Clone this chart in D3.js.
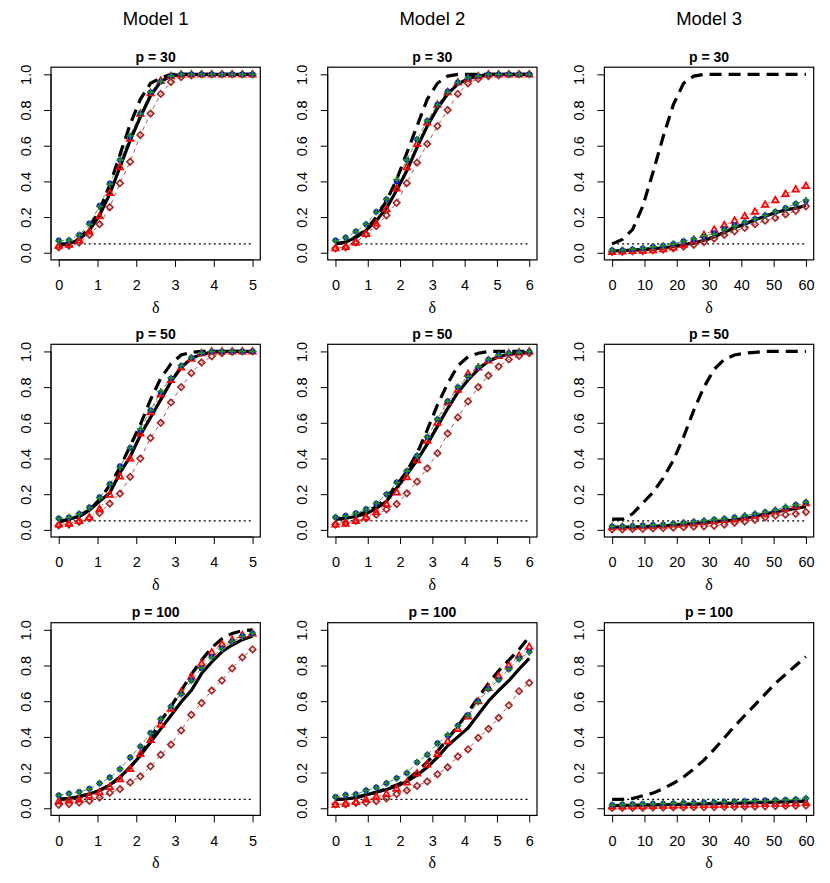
<!DOCTYPE html>
<html>
<head>
<meta charset="utf-8">
<script src="https://cdn.jsdelivr.net/npm/d3@7"></script>
<style>
  body { margin: 0; background: #fff; }
  text { font-family: "Liberation Sans", Arial, Helvetica, sans-serif; }
</style>
</head>
<body>
<div class="chart"></div>
<script>
// panels in row-major order: (p=30: M1,M2,M3), (p=50: ...), (p=100: ...)
const models = ["Model 1", "Model 2", "Model 3"];
const dims = [30, 50, 100];
const deltaMax = [5, 6, 60];
const yTicks = [0, 0.2, 0.4, 0.6, 0.8, 1.0];
const xTicks = [[0, 1, 2, 3, 4, 5], [0, 1, 2, 3, 4, 5, 6], [0, 10, 20, 30, 40, 50, 60]];
const nullLevel = 0.05;

// black thick solid line
const solidLine = [
  [0.05,0.05,0.075,0.125,0.21,0.33,0.48,0.63,0.76,0.88,0.96,0.99,1,1,1,1,1,1,1,1],
  [0.05,0.06,0.085,0.125,0.18,0.25,0.35,0.46,0.59,0.71,0.81,0.89,0.945,0.975,0.99,1,1,1,1,1],
  [0.01,0.012,0.015,0.018,0.022,0.028,0.035,0.045,0.055,0.07,0.09,0.115,0.14,0.16,0.185,0.205,0.225,0.24,0.25,0.265],
  [0.043,0.06,0.075,0.11,0.16,0.207,0.32,0.41,0.53,0.63,0.73,0.83,0.91,0.96,0.985,0.995,1,1,1,1],
  [0.06,0.065,0.075,0.09,0.12,0.16,0.235,0.31,0.39,0.48,0.58,0.68,0.77,0.84,0.9,0.945,0.97,0.985,0.99,0.995],
  [0.015,0.015,0.016,0.018,0.02,0.022,0.025,0.03,0.035,0.04,0.045,0.05,0.055,0.065,0.075,0.09,0.1,0.11,0.12,0.13],
  [0.049,0.055,0.065,0.08,0.1,0.13,0.175,0.23,0.295,0.37,0.445,0.52,0.596,0.66,0.755,0.82,0.877,0.915,0.945,0.966],
  [0.05,0.052,0.06,0.075,0.09,0.105,0.125,0.15,0.185,0.23,0.285,0.35,0.4,0.45,0.525,0.6,0.66,0.715,0.78,0.84],
  [0.015,0.016,0.017,0.018,0.019,0.02,0.021,0.022,0.023,0.025,0.026,0.027,0.028,0.029,0.031,0.033,0.034,0.036,0.038,0.04]
];
// black thick dashed line
const dashedLine = [
  [0.04,0.05,0.08,0.14,0.24,0.38,0.55,0.72,0.86,0.95,0.98,1,1,1,1,1,1,1,1,1],
  [0.05,0.06,0.09,0.13,0.2,0.29,0.41,0.56,0.71,0.86,0.95,0.99,1,1,1,1,1,1,1,1],
  [0.05,0.075,0.13,0.26,0.45,0.65,0.83,0.95,0.99,1,1,1,1,1,1,1,1,1,1,1],
  [0.05,0.055,0.075,0.11,0.17,0.25,0.35,0.47,0.59,0.73,0.85,0.93,0.98,0.995,1,1,1,1,1,1],
  [0.06,0.065,0.08,0.1,0.13,0.18,0.25,0.33,0.43,0.56,0.7,0.82,0.92,0.97,0.99,1,1,1,1,1],
  [0.06,0.06,0.09,0.15,0.21,0.29,0.39,0.52,0.67,0.8,0.9,0.955,0.98,0.99,0.995,1,1,1,1,1],
  [0.05,0.055,0.065,0.08,0.1,0.13,0.17,0.23,0.3,0.39,0.49,0.57,0.66,0.75,0.83,0.9,0.95,0.98,0.995,1],
  [0.05,0.052,0.06,0.075,0.09,0.11,0.13,0.16,0.205,0.26,0.32,0.39,0.46,0.54,0.62,0.7,0.77,0.83,0.89,0.96],
  [0.05,0.05,0.055,0.07,0.085,0.11,0.14,0.175,0.22,0.27,0.33,0.395,0.46,0.52,0.58,0.64,0.7,0.75,0.8,0.85]
];
// blue points
const bluePts = [
  [0.07,0.07,0.1,0.165,0.265,0.39,0.52,0.65,0.78,0.9,0.96,0.99,1,1,1,1,1,1,1,1],
  [0.07,0.085,0.12,0.16,0.23,0.3,0.4,0.52,0.635,0.74,0.83,0.905,0.955,0.98,0.99,1,1,1,1,1],
  [0.015,0.015,0.02,0.025,0.035,0.04,0.05,0.065,0.075,0.09,0.11,0.135,0.155,0.17,0.19,0.21,0.23,0.25,0.275,0.29],
  [0.065,0.07,0.09,0.126,0.184,0.257,0.357,0.46,0.56,0.67,0.77,0.85,0.92,0.965,0.99,1,1,1,1,1],
  [0.07,0.08,0.094,0.117,0.147,0.2,0.267,0.33,0.415,0.52,0.62,0.72,0.8,0.86,0.91,0.955,0.98,0.99,0.995,1],
  [0.02,0.02,0.022,0.025,0.028,0.03,0.035,0.04,0.045,0.05,0.058,0.062,0.07,0.078,0.088,0.1,0.11,0.125,0.14,0.155],
  [0.073,0.083,0.092,0.11,0.14,0.173,0.22,0.285,0.346,0.423,0.5,0.57,0.64,0.718,0.785,0.85,0.897,0.935,0.966,0.98],
  [0.064,0.075,0.079,0.1,0.117,0.14,0.17,0.197,0.258,0.3,0.365,0.408,0.464,0.524,0.6,0.67,0.72,0.78,0.84,0.878],
  [0.02,0.022,0.024,0.025,0.026,0.027,0.028,0.03,0.031,0.033,0.034,0.036,0.038,0.04,0.042,0.044,0.046,0.048,0.05,0.055]
];
// green points
const greenPts = [
  [0.068,0.07,0.1,0.16,0.26,0.385,0.52,0.655,0.78,0.9,0.96,0.99,1,1,1,1,1,1,1,1],
  [0.068,0.085,0.118,0.16,0.228,0.3,0.41,0.52,0.635,0.74,0.83,0.9,0.955,0.98,0.99,1,1,1,1,1],
  [0.014,0.015,0.02,0.025,0.033,0.04,0.05,0.064,0.078,0.095,0.105,0.13,0.15,0.17,0.19,0.21,0.23,0.25,0.275,0.295],
  [0.064,0.07,0.09,0.125,0.18,0.255,0.35,0.46,0.565,0.67,0.775,0.85,0.92,0.965,0.99,1,1,1,1,1],
  [0.07,0.078,0.092,0.115,0.148,0.2,0.265,0.33,0.415,0.52,0.62,0.72,0.8,0.86,0.915,0.955,0.98,0.99,0.995,1],
  [0.02,0.02,0.022,0.024,0.028,0.03,0.035,0.04,0.046,0.052,0.058,0.063,0.07,0.08,0.09,0.1,0.112,0.128,0.14,0.155],
  [0.072,0.082,0.09,0.108,0.14,0.172,0.22,0.285,0.347,0.42,0.5,0.57,0.64,0.715,0.785,0.845,0.895,0.935,0.963,0.98],
  [0.062,0.074,0.078,0.1,0.115,0.14,0.168,0.197,0.258,0.3,0.362,0.41,0.462,0.52,0.595,0.668,0.72,0.78,0.838,0.875],
  [0.018,0.021,0.022,0.024,0.025,0.026,0.028,0.029,0.03,0.032,0.034,0.036,0.038,0.04,0.041,0.043,0.045,0.047,0.05,0.056]
];
// red triangles
const redPts = [
  [0.04,0.045,0.07,0.12,0.205,0.335,0.48,0.64,0.78,0.895,0.965,0.99,1,1,1,1,1,1,1,1],
  [0.025,0.033,0.057,0.105,0.165,0.245,0.36,0.48,0.61,0.73,0.83,0.9,0.955,0.975,0.99,1,1,1,1,1],
  [0.005,0.008,0.01,0.012,0.015,0.02,0.03,0.045,0.07,0.1,0.13,0.155,0.18,0.205,0.23,0.27,0.295,0.33,0.355,0.375],
  [0.03,0.035,0.05,0.07,0.116,0.197,0.3,0.4,0.54,0.66,0.76,0.84,0.91,0.96,0.99,1,1,1,1,1],
  [0.03,0.035,0.05,0.07,0.1,0.145,0.21,0.295,0.39,0.5,0.6,0.715,0.785,0.875,0.91,0.95,0.975,0.99,0.995,1],
  [0.015,0.015,0.018,0.02,0.022,0.025,0.03,0.035,0.04,0.045,0.05,0.055,0.06,0.07,0.08,0.09,0.105,0.12,0.135,0.15],
  [0.04,0.045,0.05,0.07,0.09,0.12,0.163,0.22,0.305,0.383,0.47,0.558,0.652,0.737,0.812,0.874,0.919,0.944,0.97,0.98],
  [0.02,0.025,0.035,0.05,0.065,0.08,0.11,0.145,0.195,0.245,0.305,0.375,0.445,0.515,0.6,0.675,0.74,0.8,0.855,0.905],
  [0.01,0.01,0.011,0.012,0.013,0.014,0.015,0.016,0.017,0.018,0.019,0.02,0.021,0.022,0.023,0.024,0.025,0.026,0.028,0.03]
];
// brown diamonds
const brownPts = [
  [0.03,0.04,0.057,0.1,0.16,0.255,0.39,0.51,0.66,0.78,0.89,0.957,0.985,0.995,1,1,1,1,1,1],
  [0.025,0.03,0.058,0.105,0.15,0.21,0.28,0.39,0.505,0.61,0.71,0.8,0.89,0.95,0.975,0.99,0.995,1,1,1],
  [0.005,0.005,0.008,0.01,0.013,0.018,0.025,0.035,0.045,0.06,0.08,0.1,0.12,0.14,0.16,0.18,0.195,0.215,0.235,0.26],
  [0.025,0.03,0.045,0.065,0.094,0.147,0.203,0.297,0.4,0.515,0.6,0.714,0.8,0.878,0.938,0.973,0.99,0.997,1,1],
  [0.03,0.04,0.05,0.065,0.085,0.115,0.145,0.205,0.27,0.345,0.43,0.54,0.63,0.72,0.8,0.865,0.915,0.955,0.975,0.99],
  [0.003,0.003,0.005,0.006,0.008,0.01,0.012,0.015,0.018,0.02,0.023,0.03,0.04,0.047,0.056,0.07,0.08,0.085,0.09,0.1],
  [0.019,0.024,0.032,0.041,0.06,0.086,0.107,0.145,0.179,0.235,0.3,0.357,0.436,0.524,0.59,0.66,0.716,0.784,0.846,0.89],
  [0.022,0.022,0.03,0.032,0.04,0.055,0.08,0.1,0.125,0.15,0.19,0.23,0.29,0.33,0.395,0.445,0.507,0.577,0.656,0.703],
  [0.002,0.002,0.003,0.003,0.004,0.004,0.005,0.005,0.006,0.006,0.007,0.008,0.008,0.009,0.01,0.011,0.012,0.013,0.014,0.015]
];

const width = 830, height = 883;
const panelLeft = [51, 327.7, 604.4];
const panelTop = [67.2, 344.3, 622.7];
const pw = 209.3, ph = 192.7;
const tickFont = "14.5px";

const svg = d3.select(".chart").append("svg")
  .attr("width", width).attr("height", height)
  .style("background", "#fff");

// column headers
models.forEach((m, c) => {
  svg.append("text")
    .attr("x", panelLeft[c] + pw / 2).attr("y", 25)
    .attr("text-anchor", "middle")
    .attr("font-size", "18.5px")
    .text(m);
});

function diamond(s) {
  return `M0,${-s}L${s},0L0,${s}L${-s},0Z`;
}
function triangle(s) {
  return `M0,${-s}L${s * 0.95},${s * 0.65}L${-s * 0.95},${s * 0.65}Z`;
}

function drawPanel(k) {
  const r = Math.floor(k / 3), c = k % 3;
  const left = panelLeft[c], top = panelTop[r];
  const xmax = deltaMax[c];
  // x grid of the simulation: 20 equally spaced shifts from 0 to xmax
  const xs = d3.range(20).map(i => i * xmax / 19);

  const x = d3.scaleLinear().domain([-0.04 * xmax, 1.04 * xmax]).range([left, left + pw]);
  const y = d3.scaleLinear().domain([-0.04, 1.04]).range([top + ph, top]);

  const g = svg.append("g");

  // panel title
  g.append("text")
    .attr("x", left + pw / 2).attr("y", top - 5.5)
    .attr("text-anchor", "middle")
    .attr("font-size", "14px").attr("font-weight", "bold")
    .text("p = " + dims[r]);

  // axes
  const xAxis = d3.axisBottom(x).tickValues(xTicks[c]).tickSize(7).tickPadding(13).tickFormat(d3.format("d"));
  const gx = g.append("g").attr("transform", `translate(0,${top + ph})`).call(xAxis);
  gx.select(".domain").attr("d", `M${x(xTicks[c][0])},0H${x(xTicks[c][xTicks[c].length - 1])}`);
  gx.selectAll("text").attr("font-size", tickFont).attr("fill", "#000")
    .style("font-family", '"Liberation Sans", Arial, sans-serif');

  const yAxis = d3.axisLeft(y).tickValues(yTicks).tickSize(7).tickFormat(d3.format(".1f"));
  const gy = g.append("g").attr("transform", `translate(${left},0)`).call(yAxis);
  gy.select(".domain").attr("d", `M0,${y(0)}V${y(1)}`);
  gy.selectAll("text")
    .attr("font-size", tickFont).attr("fill", "#000")
    .style("font-family", '"Liberation Sans", Arial, sans-serif')
    .attr("text-anchor", "middle")
    .attr("x", 0).attr("dy", 0)
    .attr("transform", "translate(-20.5,0) rotate(-90)");

  // box
  g.append("rect").attr("x", left).attr("y", top).attr("width", pw).attr("height", ph)
    .attr("fill", "none").attr("stroke", "#000").attr("stroke-width", 1.2);

  // delta label
  g.append("text")
    .attr("x", left + pw / 2).attr("y", top + ph + 53)
    .attr("text-anchor", "middle")
    .style("font-family", '"Liberation Serif", "DejaVu Serif", serif')
    .attr("font-size", "16px")
    .text("δ");

  const line = d3.line().x((d, i) => x(xs[i])).y(d => y(d));
  const plot = g.append("g");

  // nominal level
  plot.append("line")
    .attr("x1", x(0)).attr("x2", x(xmax))
    .attr("y1", y(nullLevel)).attr("y2", y(nullLevel))
    .attr("stroke", "#000").attr("stroke-width", 1.3).attr("stroke-dasharray", "2,3");

  // thin connecting lines of the point series
  [[brownPts, "#a52a2a", "4,4"], [redPts, "#ff0000", "1.5,3"], [greenPts, "#228b22", "5,3"]].forEach(([s, col, dash]) => {
    plot.append("path").attr("d", line(s[k]))
      .attr("fill", "none").attr("stroke", col).attr("stroke-width", 1)
      .attr("stroke-dasharray", dash).attr("opacity", 0.8);
  });

  // thick black curves
  plot.append("path").attr("d", line(solidLine[k]))
    .attr("fill", "none").attr("stroke", "#000").attr("stroke-width", 3.2)
    .attr("stroke-linejoin", "round");
  plot.append("path").attr("d", line(dashedLine[k]))
    .attr("fill", "none").attr("stroke", "#000").attr("stroke-width", 3.2)
    .attr("stroke-dasharray", "12,7");

  // brown diamonds
  plot.selectAll(".brown").data(brownPts[k]).enter().append("path")
    .attr("class", "brown")
    .attr("transform", (d, i) => `translate(${x(xs[i])},${y(d)})`)
    .attr("d", diamond(3.2))
    .attr("fill", "none").attr("stroke", "#a52a2a").attr("stroke-width", 1.7);

  // red triangles
  plot.selectAll(".red").data(redPts[k]).enter().append("path")
    .attr("class", "red")
    .attr("transform", (d, i) => `translate(${x(xs[i])},${y(d)})`)
    .attr("d", triangle(3.4))
    .attr("fill", "none").attr("stroke", "#ff0000").attr("stroke-width", 1.7);

  // blue dots
  plot.selectAll(".blue").data(bluePts[k]).enter().append("circle")
    .attr("class", "blue")
    .attr("cx", (d, i) => x(xs[i])).attr("cy", d => y(d))
    .attr("r", 2.8).attr("fill", "#0000ff");

  // green pluses
  plot.selectAll(".green").data(greenPts[k]).enter().append("path")
    .attr("class", "green")
    .attr("transform", (d, i) => `translate(${x(xs[i])},${y(d)})`)
    .attr("d", "M-3.5,0H3.5M0,-3.5V3.5")
    .attr("fill", "none").attr("stroke", "#228b22").attr("stroke-width", 1.8);
}

for (let k = 0; k < 9; k++) drawPanel(k);
</script>
</body>
</html>
